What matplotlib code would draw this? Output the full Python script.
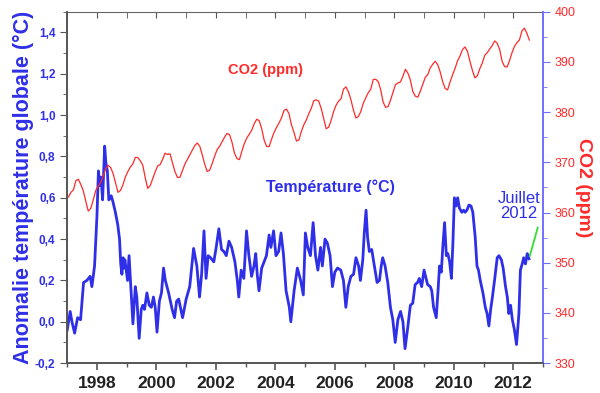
import numpy as np
import matplotlib
matplotlib.use('Agg')
import matplotlib.pyplot as plt
from matplotlib.ticker import MultipleLocator, FuncFormatter

plt.rcParams['font.family'] = ['Liberation Sans', 'DejaVu Sans']

# Anomalie de température (date décimale, °C)
temp_dates = [1997.00, 1997.10, 1997.16, 1997.25, 1997.35, 1997.45, 1997.55, 1997.66, 1997.77, 1997.83,
              1997.92, 1998.00, 1998.05, 1998.10, 1998.14, 1998.19, 1998.26, 1998.30, 1998.35, 1998.40,
              1998.48, 1998.54, 1998.62, 1998.70, 1998.76, 1998.80, 1998.84, 1998.88, 1998.91, 1998.94,
              1999.03, 1999.08, 1999.14, 1999.21, 1999.29, 1999.34, 1999.42, 1999.49, 1999.54, 1999.60,
              1999.68, 1999.76, 1999.83, 1999.90, 1999.96, 2000.02, 2000.10, 2000.17, 2000.24, 2000.30,
              2000.41, 2000.53, 2000.61, 2000.68, 2000.75, 2000.88, 2001.00, 2001.12, 2001.25, 2001.36,
              2001.45, 2001.52, 2001.60, 2001.67, 2001.74, 2001.82, 2001.93, 2002.01, 2002.10, 2002.19,
              2002.27, 2002.35, 2002.44, 2002.53, 2002.64, 2002.72, 2002.77, 2002.85, 2002.94, 2003.03,
              2003.11, 2003.20, 2003.28, 2003.34, 2003.39, 2003.45, 2003.54, 2003.62, 2003.70, 2003.79,
              2003.85, 2003.94, 2004.02, 2004.11, 2004.19, 2004.27, 2004.36, 2004.47, 2004.52, 2004.63,
              2004.74, 2004.85, 2004.94, 2005.01, 2005.09, 2005.18, 2005.27, 2005.35, 2005.43, 2005.52,
              2005.58, 2005.67, 2005.75, 2005.84, 2005.92, 2006.00, 2006.09, 2006.20, 2006.29, 2006.37,
              2006.45, 2006.54, 2006.63, 2006.71, 2006.80, 2006.86, 2006.94, 2006.99, 2007.05, 2007.10,
              2007.16, 2007.24, 2007.33, 2007.42, 2007.50, 2007.56, 2007.61, 2007.69, 2007.78, 2007.87,
              2007.95, 2008.03, 2008.12, 2008.21, 2008.29, 2008.36, 2008.45, 2008.54, 2008.62, 2008.70,
              2008.78, 2008.84, 2008.92, 2009.00, 2009.07, 2009.12, 2009.21, 2009.26, 2009.32, 2009.41,
              2009.47, 2009.52, 2009.58, 2009.63, 2009.69, 2009.75, 2009.80, 2009.86, 2009.92, 2009.97,
              2010.02, 2010.08, 2010.13, 2010.19, 2010.27, 2010.33, 2010.38, 2010.44, 2010.51, 2010.58,
              2010.64, 2010.72, 2010.78, 2010.83, 2010.89, 2010.98, 2011.06, 2011.12, 2011.18, 2011.24,
              2011.29, 2011.37, 2011.46, 2011.52, 2011.60, 2011.66, 2011.74, 2011.80, 2011.85, 2011.91,
              2011.97, 2012.04, 2012.11, 2012.19, 2012.24, 2012.30, 2012.35, 2012.41, 2012.47, 2012.53]
temp_vals = [-0.04, 0.05, 0.00, -0.055, 0.02, 0.01, 0.19, 0.20, 0.22, 0.17,
             0.27, 0.51, 0.73, 0.66, 0.70, 0.59, 0.85, 0.77, 0.73, 0.59,
             0.61, 0.58, 0.53, 0.47, 0.40, 0.28, 0.23, 0.31, 0.26, 0.30,
             0.20, 0.32, 0.17, -0.01, 0.17, 0.12, -0.08, 0.06, 0.08, 0.06,
             0.14, 0.08, 0.07, 0.12, 0.07, -0.05, 0.10, 0.14, 0.26, 0.20,
             0.14, 0.06, 0.02, 0.10, 0.11, 0.02, 0.11, 0.17, 0.355, 0.27,
             0.12, 0.23, 0.44, 0.21, 0.32, 0.31, 0.29, 0.36, 0.45, 0.35,
             0.34, 0.32, 0.39, 0.36, 0.29, 0.20, 0.12, 0.25, 0.21, 0.44,
             0.32, 0.22, 0.27, 0.33, 0.23, 0.15, 0.26, 0.29, 0.32, 0.42,
             0.36, 0.44, 0.32, 0.34, 0.43, 0.33, 0.15, 0.07, 0.00, 0.15,
             0.26, 0.20, 0.13, 0.43, 0.36, 0.32, 0.48, 0.32, 0.25, 0.36,
             0.27, 0.40, 0.38, 0.32, 0.17, 0.24, 0.26, 0.25, 0.20, 0.07,
             0.17, 0.22, 0.23, 0.31, 0.27, 0.20, 0.30, 0.43, 0.54, 0.41,
             0.34, 0.35, 0.27, 0.19, 0.20, 0.27, 0.31, 0.27, 0.19, 0.07,
             0.01, -0.10, 0.01, 0.05, 0.00, -0.13, -0.03, 0.08, 0.09, 0.18,
             0.19, 0.21, 0.17, 0.25, 0.21, 0.18, 0.17, 0.15, 0.07, 0.02,
             0.15, 0.27, 0.24, 0.36, 0.48, 0.32, 0.33, 0.29, 0.21, 0.38,
             0.60, 0.56, 0.60, 0.55, 0.53, 0.54, 0.53, 0.54, 0.565, 0.56,
             0.53, 0.41, 0.27, 0.25, 0.20, 0.14, 0.07, 0.04, -0.02, 0.06,
             0.11, 0.20, 0.31, 0.32, 0.30, 0.26, 0.17, 0.12, 0.04, 0.08,
             0.01, -0.04, -0.11, 0.04, 0.25, 0.28, 0.31, 0.28, 0.33, 0.305]

# CO2 mensuel (ppm), janvier 1997 -> juillet 2012
co2_vals = [363.09, 364.03, 364.51, 366.35, 366.64, 365.59, 364.31, 362.25, 360.29, 360.82, 362.49, 364.38,
            365.27, 365.98, 367.24, 368.66, 369.42, 368.99, 367.82, 365.95, 364.02, 364.40, 365.52, 367.13,
            368.18, 369.07, 369.68, 370.99, 370.96, 370.30, 369.45, 366.90, 364.81, 365.37, 366.72, 368.10,
            369.29, 369.55, 370.60, 371.82, 371.58, 371.70, 369.86, 368.13, 367.00, 367.03, 368.37, 369.67,
            370.59, 371.51, 372.43, 373.37, 373.85, 373.21, 371.51, 369.61, 368.18, 368.45, 369.76, 371.24,
            372.53, 373.20, 374.12, 375.02, 375.76, 375.52, 374.01, 371.85, 370.75, 370.55, 372.25, 373.79,
            374.88, 375.64, 376.45, 377.73, 378.60, 378.28, 376.70, 374.38, 373.17, 373.15, 374.66, 375.99,
            377.00, 377.87, 378.88, 380.35, 380.62, 379.69, 377.47, 376.01, 374.25, 374.46, 376.16, 377.51,
            378.46, 379.73, 380.77, 382.29, 382.45, 382.21, 380.74, 378.74, 376.70, 377.00, 378.35, 380.11,
            381.38, 382.19, 382.67, 384.61, 385.03, 384.05, 382.46, 380.41, 378.85, 379.13, 380.15, 381.82,
            382.89, 383.90, 384.58, 386.50, 386.56, 386.10, 384.50, 381.99, 380.96, 381.12, 382.45, 383.95,
            385.52, 385.82, 386.03, 387.21, 388.54, 387.76, 386.36, 384.09, 383.18, 382.99, 384.19, 385.56,
            386.94, 387.48, 388.82, 389.55, 390.14, 389.48, 388.03, 386.11, 384.74, 384.43, 386.02, 387.42,
            388.71, 390.20, 391.17, 392.46, 393.00, 392.15, 390.20, 388.35, 386.85, 387.24, 388.67, 389.79,
            391.33, 391.86, 392.60, 393.25, 394.19, 393.74, 392.51, 390.13, 389.08, 389.00, 390.28, 391.86,
            393.12, 393.86, 394.40, 396.18, 396.74, 395.71, 394.36]
co2_dates = 1997 + (np.arange(len(co2_vals)) + 0.5) / 12.0

year_ticks = [1998, 2000, 2002, 2004, 2006, 2008, 2010, 2012]

BLUE = '#2f2fe8'
RED = '#ff2a2a'

fig = plt.figure(figsize=(6, 3.93), dpi=100)
ax = fig.add_axes([0.112, 0.076, 0.793, 0.894])
ax2 = ax.twinx()

ax.plot(temp_dates, temp_vals, color=BLUE, lw=2.0, solid_joinstyle='round')
ax2.plot(co2_dates, co2_vals, color=RED, lw=0.9)

ax.set_xlim(1997, 2013)
ax.set_ylim(-0.2, 1.5)
ax2.set_ylim(330, 400)

# axe x
ax.set_xticks(year_ticks)
ax.xaxis.set_minor_locator(MultipleLocator(1))
ax.tick_params(axis='x', which='major', direction='out', length=5, width=1.2, color='#555555',
               labelsize=12.5, labelcolor='#222222', pad=4)
ax.tick_params(axis='x', which='minor', direction='out', length=3, width=1, color='#555555')
for lab in ax.get_xticklabels():
    lab.set_fontweight('bold')

top = ax.secondary_xaxis('top')
top.set_xticks(year_ticks)
top.xaxis.set_minor_locator(MultipleLocator(1))
top.tick_params(which='both', direction='in', length=4, color='#555555', labeltop=False)
top.spines['top'].set_color('#666666')

# axe gauche (température)
ax.yaxis.set_minor_locator(MultipleLocator(0.1))
ax.set_yticks(np.arange(-0.2, 1.41, 0.2))
ax.yaxis.set_major_formatter(FuncFormatter(lambda v, p: f"{v:.1f}".replace('.', ',')))
ax.tick_params(axis='y', which='major', direction='out', length=5, color='#555555',
               labelsize=8.5, labelcolor=BLUE)
ax.tick_params(axis='y', which='minor', direction='out', length=3, color='#555555')
for lab in ax.get_yticklabels():
    lab.set_fontweight('bold')
ax.set_ylabel('Anomalie température globale (°C)', color=BLUE, fontsize=15.5,
              fontweight='bold', labelpad=1)

# axe droit (CO2)
ax2.yaxis.set_major_locator(MultipleLocator(10))
ax2.yaxis.set_minor_locator(MultipleLocator(5))
ax2.tick_params(axis='y', which='major', direction='out', length=5, color='#7070ff',
                labelsize=9, labelcolor=RED)
ax2.tick_params(axis='y', which='minor', direction='out', length=3, color='#7070ff')
ax2.set_ylabel('CO2 (ppm)', color=RED, fontsize=14, fontweight='bold', rotation=270, labelpad=12)

for a in (ax, ax2):
    a.spines['left'].set_color('#555555')
    a.spines['bottom'].set_color('#555555')
    a.spines['top'].set_visible(False)
    a.spines['right'].set_color('#7070ff')
    a.spines['left'].set_linewidth(1.2)
    a.spines['bottom'].set_linewidth(1.2)
    a.spines['right'].set_linewidth(1.2)

# textes
ax.text(2003.67, 1.22, 'CO2 (ppm)', color=RED, fontsize=10.5, fontweight='bold', ha='center', va='center')
ax.text(2005.85, 0.65, 'Température (°C)', color=BLUE, fontsize=11.5, fontweight='bold',
        ha='center', va='center')
ax.text(2012.2, 0.56, 'Juillet\n2012', color=BLUE, fontsize=12, ha='center', va='center',
        linespacing=1.05)
ax.annotate('', xy=(temp_dates[-1], temp_vals[-1]), xytext=(2012.85, 0.47),
            arrowprops=dict(arrowstyle='-', color='#33dd33', lw=1.3))

fig.savefig('out.png', dpi=100)
